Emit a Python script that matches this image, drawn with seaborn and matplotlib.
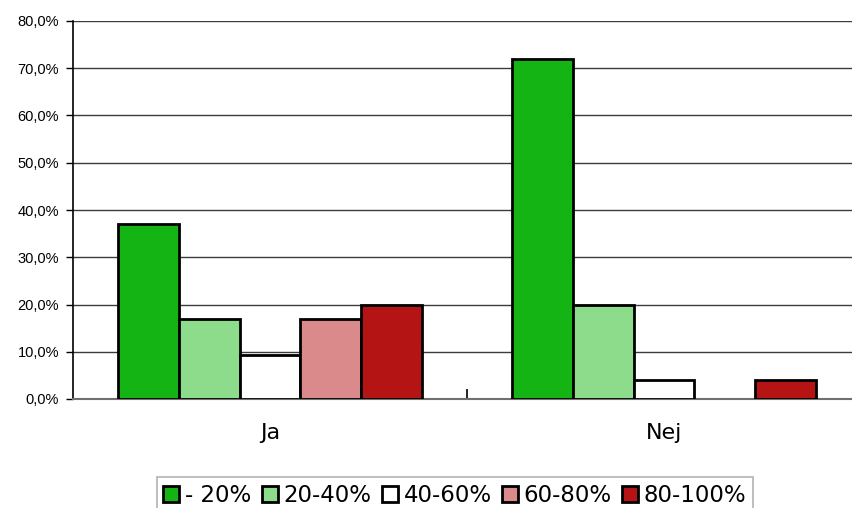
import numpy as np
import pandas as pd
import seaborn as sns
import matplotlib.pyplot as plt
from matplotlib.ticker import FuncFormatter, FixedLocator

# data
kategorier = ['Ja', 'Nej']
intervaller = ['- 20%', '20-40%', '40-60%', '60-80%', '80-100%']
ja_values = [37.0, 17.0, 9.3, 17.0, 20.0]
nej_values = [72.0, 20.0, 4.0, 0.0, 4.0]
farver = ['#14B414', '#8CDC8C', '#FFFFFF', '#DA8A8A', '#B41414']
y_ticks = [0, 10, 20, 30, 40, 50, 60, 70, 80]

df = pd.DataFrame({
    'kategori': [k for k in kategorier for _ in intervaller],
    'interval': intervaller * len(kategorier),
    'andel': ja_values + nej_values,
})

sns.set_style("white")
plt.rcParams['font.family'] = ['DejaVu Sans']
plt.rcParams['text.color'] = 'black'
plt.rcParams['xtick.color'] = 'black'
plt.rcParams['ytick.color'] = 'black'

fig = plt.figure(figsize=(8.52, 5.08), dpi=100)
ax = fig.add_axes([73 / 852, 1 - 399 / 508, 788 / 852, 378 / 508])

sns.barplot(data=df, x='kategori', y='andel', hue='interval', order=kategorier,
            hue_order=intervaller, palette=farver, width=0.77, edgecolor='black',
            linewidth=2, saturation=1, ax=ax, legend=False, zorder=3)

# no edge on empty bars
for p in ax.patches:
    if p.get_height() == 0:
        p.set_linewidth(0)

ax.set_ylim(0, 80)
ax.set_xlim(-0.5, 1.5)
ax.set_yticks(y_ticks)
ax.yaxis.set_major_formatter(FuncFormatter(lambda v, pos: f'{v:.1f}%'.replace('.', ',')))
ax.grid(axis='y', color='#3c3c3c', linewidth=1, zorder=0)
ax.set_xlabel('')
ax.set_ylabel('')

for s in ['top', 'right']:
    ax.spines[s].set_visible(False)
ax.spines['left'].set_color('black')
ax.spines['left'].set_linewidth(1.2)
ax.spines['bottom'].set_color('#707070')
ax.spines['bottom'].set_linewidth(1.5)

ax.tick_params(axis='y', left=True, length=5, width=1, color='black', pad=5)
for lbl in ax.get_yticklabels():
    lbl.set_fontfamily(['Liberation Sans', 'DejaVu Sans'])
    lbl.set_fontsize(10.5)
ax.tick_params(axis='x', bottom=False, labelsize=16, pad=14)
ax.xaxis.set_minor_locator(FixedLocator([0.5]))
ax.tick_params(axis='x', which='minor', bottom=True, direction='in', length=7, width=1.2, color='black')

handles = [plt.Rectangle((0, 0), 1, 1, facecolor=c, edgecolor='black', linewidth=2) for c in farver]
leg = fig.legend(handles, intervaller, loc='upper center', bbox_to_anchor=(455 / 852, 1 - 477 / 508),
                 ncol=5, fontsize=16.5, frameon=True, fancybox=False, handlelength=0.7, handleheight=0.7,
                 handletextpad=0.25, columnspacing=0.45, borderpad=0.3, borderaxespad=0)
leg.get_frame().set_edgecolor('#a0a0a0')
leg.get_frame().set_linewidth(1.2)

fig.savefig('out.png', dpi=100)
